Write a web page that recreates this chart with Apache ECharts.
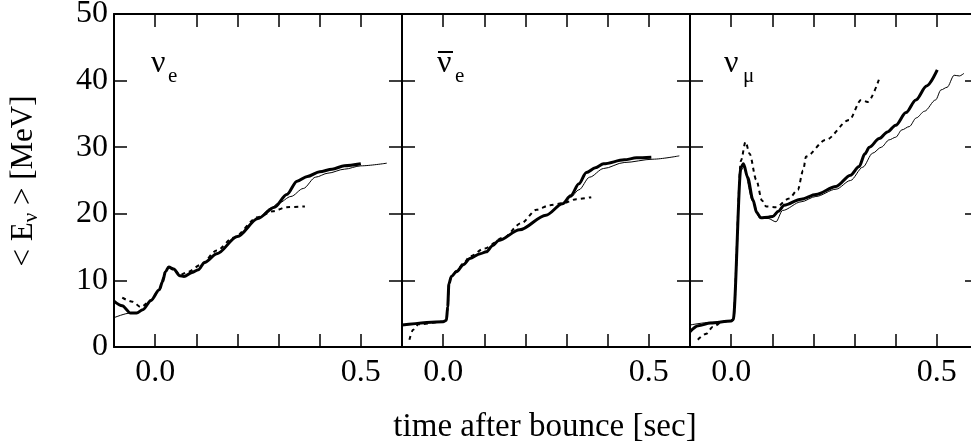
<!DOCTYPE html>
<html>
<head>
<meta charset="utf-8">
<script src="https://cdn.jsdelivr.net/npm/echarts@6/dist/echarts.min.js"></script>
<style>
  html, body { margin: 0; padding: 0; background: #fff; }
  #chart { width: 971px; height: 446px; }
</style>
</head>
<body>
<div id="chart"></div>
<script>
// mean neutrino energy vs time after bounce, three flavours
const FONT = 'Liberation Serif'

const xTicks = ['0.0', '0.5']
const yTicks = [0, 10, 20, 30, 40, 50]

// nu_e panel  [t (sec), <E> (MeV)]
const nueThick = [[-0.1, 6.9], [-0.08, 6.2], [-0.06, 5.1], [-0.045, 5.1], [-0.03, 5.6], [-0.01, 7.0], [0.01, 8.6],
  [0.018, 9.8], [0.025, 11.3], [0.033, 12.0], [0.045, 11.7], [0.06, 10.7], [0.07, 10.6], [0.09, 11.2], [0.105, 11.6],
  [0.12, 12.7], [0.15, 14.0], [0.2, 16.6], [0.25, 19.3], [0.29, 21.0], [0.32, 22.9], [0.345, 24.9], [0.37, 25.6],
  [0.4, 26.3], [0.43, 26.7], [0.46, 27.2], [0.5, 27.5]]
const nueThin = [[-0.1, 4.4], [-0.06, 5.1], [-0.045, 5.1], [-0.03, 5.6], [-0.01, 7.0], [0.01, 8.6], [0.018, 9.8],
  [0.025, 11.3], [0.033, 12.0], [0.045, 11.7], [0.06, 10.7], [0.07, 10.6], [0.09, 11.2], [0.105, 11.6], [0.12, 12.7],
  [0.15, 14.0], [0.2, 16.6], [0.25, 19.3], [0.28, 20.8], [0.3, 21.6], [0.33, 22.6], [0.36, 23.8], [0.39, 25.5],
  [0.42, 26.1], [0.46, 26.7], [0.5, 27.2], [0.563, 27.6]]
const nueDot = [[-0.08, 7.4], [-0.055, 6.8], [-0.035, 6.0], [-0.01, 7.0], [0.01, 8.6], [0.025, 11.3], [0.033, 12.0],
  [0.045, 11.7], [0.06, 10.8], [0.08, 11.3], [0.11, 12.3], [0.15, 14.5], [0.19, 16.4], [0.25, 19.5], [0.287, 20.4],
  [0.32, 21.0], [0.364, 21.1]]

// anti nu_e panel
const anueThick = [[-0.1, 3.3], [0.0, 3.8], [0.008, 4.0], [0.011, 6.0], [0.014, 9.5], [0.02, 10.6], [0.032, 11.3],
  [0.05, 12.4], [0.065, 13.3], [0.09, 14.0], [0.105, 14.3], [0.12, 15.2], [0.135, 16.0], [0.186, 17.6], [0.25, 19.8],
  [0.29, 21.5], [0.31, 22.7], [0.33, 24.5], [0.348, 26.2], [0.37, 26.9], [0.39, 27.5], [0.44, 28.1], [0.47, 28.4],
  [0.506, 28.5]]
const anueThin = [[-0.1, 3.3], [0.0, 3.8], [0.008, 4.0], [0.011, 6.0], [0.014, 9.5], [0.02, 10.6], [0.032, 11.3],
  [0.05, 12.4], [0.065, 13.3], [0.09, 14.0], [0.105, 14.3], [0.12, 15.2], [0.135, 16.0], [0.186, 17.6], [0.25, 19.8],
  [0.29, 21.5], [0.31, 22.5], [0.33, 23.6], [0.356, 25.5], [0.39, 26.8], [0.44, 27.7], [0.51, 28.2], [0.574, 28.7]]
const anueDot = [[-0.082, 1.1], [-0.073, 2.6], [-0.06, 3.4], [0.0, 3.8], [0.008, 4.0], [0.011, 6.0], [0.014, 9.5],
  [0.02, 10.6], [0.032, 11.4], [0.05, 12.6], [0.065, 13.6], [0.1, 14.8], [0.146, 16.4], [0.19, 18.6], [0.227, 20.6],
  [0.26, 21.3], [0.291, 21.6], [0.324, 22.2], [0.36, 22.5]]

// nu_mu panel
const numuThick = [[-0.1, 2.3], [-0.08, 3.2], [-0.05, 3.6], [0.0, 3.9], [0.005, 4.1], [0.024, 27.0], [0.03, 27.5],
  [0.04, 25.5], [0.053, 22.1], [0.062, 20.2], [0.072, 19.4], [0.09, 19.5], [0.101, 19.6], [0.115, 20.4], [0.129, 21.3],
  [0.17, 22.2], [0.206, 22.9], [0.255, 24.1], [0.29, 25.8], [0.311, 27.1], [0.325, 29.0], [0.336, 30.0], [0.36, 31.3],
  [0.38, 32.3], [0.4, 33.3], [0.425, 35.2], [0.449, 37.1], [0.475, 39.2], [0.501, 41.6]]
const numuThin = [[-0.1, 3.3], [-0.05, 3.7], [0.0, 3.9], [0.005, 4.1], [0.024, 26.5], [0.03, 27.0], [0.053, 21.8],
  [0.07, 19.3], [0.09, 19.3], [0.109, 18.8], [0.125, 20.5], [0.17, 21.8], [0.206, 22.6], [0.255, 23.7], [0.29, 25.0],
  [0.32, 27.0], [0.344, 29.1], [0.365, 30.0], [0.384, 31.1], [0.4, 31.5], [0.415, 32.6], [0.433, 33.1], [0.45, 34.4],
  [0.47, 35.4], [0.497, 37.1], [0.51, 38.6], [0.525, 39.0], [0.542, 40.8], [0.555, 40.7], [0.566, 41.1]]
const numuDot = [[-0.081, 1.1], [-0.06, 2.0], [-0.045, 3.0], [-0.02, 3.8], [0.005, 4.1], [0.024, 28.0], [0.035, 30.8],
  [0.045, 29.0], [0.061, 25.1], [0.075, 22.0], [0.085, 21.1], [0.109, 21.0], [0.141, 22.3], [0.162, 23.6],
  [0.175, 26.5], [0.182, 28.6], [0.23, 31.1], [0.287, 34.1], [0.316, 37.1], [0.332, 36.8], [0.36, 40.3]]

const panels = [
  { thick: nueThick, thin: nueThin, dot: nueDot },
  { thick: anueThick, thin: anueThin, dot: anueDot },
  { thick: numuThick, thin: numuThin, dot: numuDot },
]

const lineCol = '#000'
const frame = { show: true, onZero: false, lineStyle: { color: lineCol, width: 2 } }
const tick = { show: true, inside: true, length: 13, lineStyle: { color: lineCol, width: 1.5 } }

function xLabel(v) {
  if (Math.abs(v) < 1e-6) return xTicks[0]
  if (Math.abs(v - 0.5) < 1e-6) return xTicks[1]
  return ''
}

const grids = [], xAxes = [], yAxes = [], series = []
panels.forEach((p, i) => {
  // last panel runs past the right edge of the picture, as in the original
  grids.push({ left: 114 + 288 * i, top: 14, width: 288, height: 333, outerBoundsMode: 'none', containLabel: false })
  ;['bottom', 'top'].forEach(pos => {
    xAxes.push({
      type: 'value', gridIndex: i, position: pos, min: -0.1, max: 0.6, interval: 0.1,
      axisLine: frame, axisTick: tick, splitLine: { show: false },
      axisLabel: {
        show: pos === 'bottom', formatter: xLabel, margin: 10,
        fontFamily: FONT, fontSize: 32, color: lineCol,
      },
    })
  })
  ;['left', 'right'].forEach(pos => {
    yAxes.push({
      type: 'value', gridIndex: i, position: pos, min: 0, max: 50, interval: 10,
      axisLine: frame, axisTick: tick, splitLine: { show: false },
      axisLabel: {
        show: pos === 'left' && i === 0, margin: 6,
        formatter: v => yTicks.includes(v) ? String(v) : '',
        fontFamily: FONT, fontSize: 32, color: lineCol,
      },
    })
  })
  const base = { type: 'line', xAxisIndex: i * 2, yAxisIndex: i * 2, showSymbol: false, symbol: 'none',
    smooth: 0.3, smoothMonotone: 'x', animation: false, silent: true }
  series.push({ ...base, data: p.dot, lineStyle: { color: lineCol, width: 2, type: [4, 4] } })
  series.push({ ...base, data: p.thin, lineStyle: { color: lineCol, width: 1 } })
  series.push({ ...base, data: p.thick, lineStyle: { color: lineCol, width: 3 } })
})

const txt = (x, y, text, size, extra) => ({
  type: 'text', x, y,
  style: { text, fontFamily: FONT, fontSize: size, fill: lineCol, verticalAlign: 'middle', ...extra },
})

const chart = echarts.init(document.getElementById('chart'), null, { renderer: 'canvas' })
chart.setOption({
  animation: false,
  backgroundColor: '#fff',
  grid: grids,
  xAxis: xAxes,
  yAxis: yAxes,
  series,
  graphic: [
    // panel labels
    txt(151, 64, 'ν', 32), txt(168, 76, 'e', 21),
    txt(437, 64, 'ν', 32), txt(455, 76, 'e', 21),
    { type: 'line', shape: { x1: 438, y1: 52, x2: 453, y2: 52 }, style: { stroke: lineCol, lineWidth: 2 } },
    txt(724, 64, 'ν', 32), txt(743, 76, 'μ', 21),
    // axis titles
    txt(545, 427, 'time after bounce [sec]', 33, { align: 'center' }),
    {
      type: 'text', x: 24, y: 181, rotation: Math.PI / 2,
      style: {
        text: '{a|< E}{b|ν}{a| > [MeV]}', align: 'center', verticalAlign: 'middle',
        rich: {
          a: { fontFamily: FONT, fontSize: 31, fill: lineCol, lineHeight: 36, verticalAlign: 'middle' },
          b: { fontFamily: FONT, fontSize: 21, fill: lineCol, lineHeight: 36, verticalAlign: 'bottom' },
        },
      },
    },
  ],
})
</script>
</body>
</html>
